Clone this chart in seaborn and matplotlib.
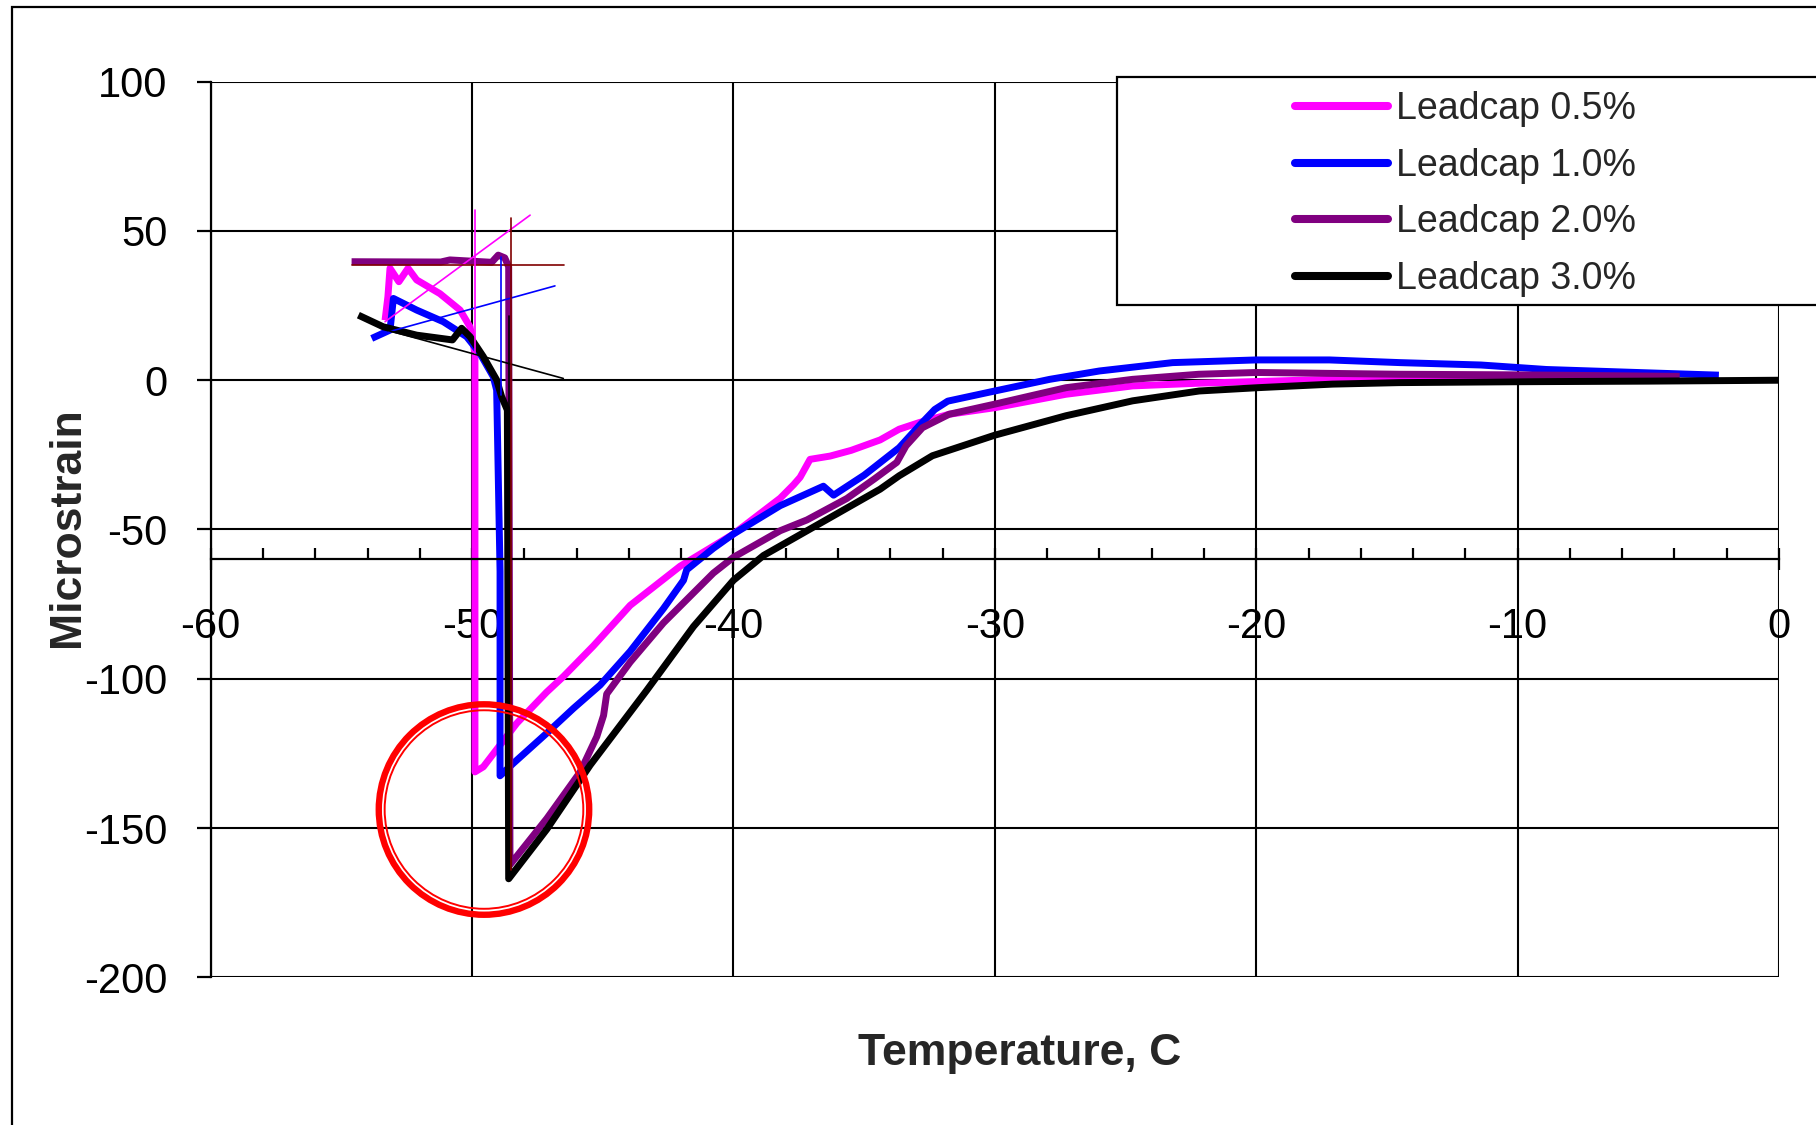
import numpy as np
import pandas as pd
import matplotlib
matplotlib.use("Agg")
import matplotlib.pyplot as plt
import seaborn as sns
from matplotlib.patches import Rectangle, Ellipse
from matplotlib.ticker import MultipleLocator

# ---------------- data ----------------
series_names = ["Leadcap 0.5%", "Leadcap 1.0%", "Leadcap 2.0%", "Leadcap 3.0%"]
series_colors = ["#FF00FF", "#0000FF", "#800080", "#000000"]

pink_T = [-4.0, -10.0, -14.5, -17.1, -22.2, -24.73, -27.28, -30.0, -31.75, -32.9,
          -33.66, -34.39, -35.5, -36.3, -37.07, -37.45, -37.7, -38.21, -40.0, -42.04,
          -43.95, -45.36, -46.5, -47.15, -48.29, -49.57, -49.89, -49.89, -50.08, -50.46,
          -51.23, -52.12, -52.45, -52.8, -53.14, -53.22, -53.33]
pink_strain = [0.5, 0.8, 0.6, 0.3, -1.0, -1.9, -4.7, -9.2, -11.4, -14.2,
               -16.4, -20.0, -23.5, -25.4, -26.5, -32.5, -35.0, -39.5, -51.5, -62.3,
               -75.4, -89.0, -99.2, -104.5, -114.9, -129.5, -131.2, 9.0, 17.9, 23.5,
               29.0, 33.6, 37.5, 33.0, 37.5, 28.0, 20.1]

blue_T = [-2.3, -5.1, -8.9, -11.4, -14.5, -17.2, -20.0, -23.2, -26.0, -27.9,
          -30.0, -31.8, -32.3, -32.9, -33.66, -35.0, -36.17, -36.56, -38.21, -40.0,
          -40.77, -41.79, -41.91, -42.68, -43.95, -45.1, -46.12, -47.14, -48.42, -48.93,
          -48.93, -49.06, -49.19, -49.7, -50.21, -51.1, -52.12, -53.01, -53.14, -53.84]
blue_strain = [1.7, 2.5, 3.6, 5.1, 5.9, 6.8, 6.8, 5.9, 3.1, 0.3,
               -3.6, -7.0, -9.8, -15.3, -22.6, -31.8, -38.5, -35.5, -42.0, -51.5,
               -56.3, -63.5, -67.0, -76.5, -90.8, -102.1, -109.9, -118.2, -128.3, -132.5,
               -64.0, -3.3, 1.2, 9.0, 14.6, 19.6, 23.5, 27.4, 16.8, 14.0]

purple_T = [-3.8, -10.0, -14.5, -20.0, -22.2, -24.73, -27.28, -30.0, -31.75, -32.77,
            -33.4, -33.75, -34.6, -35.66, -37.19, -38.21, -40.0, -40.77, -42.68, -43.95,
            -44.85, -44.97, -45.23, -45.87, -47.14, -48.55, -48.6, -48.75, -49.0, -49.25,
            -50.85, -51.2, -54.61]
purple_strain = [1.3, 1.8, 2.0, 2.6, 2.0, 0.3, -2.5, -8.0, -11.4, -15.9,
                 -22.0, -27.5, -33.0, -39.6, -46.8, -50.4, -59.3, -64.6, -81.3, -94.4,
                 -105.1, -112.3, -119.4, -131.3, -146.8, -162.3, 38.0, 41.0, 41.9, 39.5,
                 40.3, 39.6, 39.7]

black_T = [0.0, -5.0, -10.0, -14.53, -17.08, -19.95, -22.18, -24.73, -27.28, -30.0,
           -32.39, -33.66, -34.39, -36.94, -38.85, -40.0, -41.53, -43.32, -45.48, -47.14,
           -48.6, -48.65, -48.87, -49.06, -49.57, -50.08, -50.4, -50.75, -52.12, -53.4,
           -54.35]
black_strain = [0.0, -0.3, -0.5, -0.8, -1.3, -2.5, -3.6, -6.9, -11.9, -18.4,
                -25.3, -32.0, -36.5, -49.2, -58.7, -67.0, -82.5, -103.9, -128.9, -150.4,
                -167.0, -10.0, -5.5, 0.1, 7.9, 14.6, 17.4, 13.5, 15.1, 17.9,
                21.8]

# thin hand-drawn lines in the upper-left part of the chart
thin_colors = ["#FF00FF", "#0000FF", "#000000", "#800000", "#800000", "#FF00FF", "#0000FF", "#000000"]
thin_T = [[-53.33, -47.78], [-53.2, -46.83], [-53.27, -46.51], [-54.6, -46.5],
          [-48.51, -48.51], [-49.87, -49.87], [-48.9, -48.9], [-48.6, -48.6]]
thin_strain = [[19.6, 55.3], [16.2, 31.6], [16.8, 0.6], [38.6, 38.6],
               [54.2, -164.0], [56.9, 9.0], [41.4, -5.0], [21.5, -10.0]]

x_ticks = [-60, -50, -40, -30, -20, -10, 0]
y_ticks = [-200, -150, -100, -50, 0, 50, 100]

# ---------------- figure ----------------
sns.set_theme(style="white")
plt.rcParams['font.family'] = ['Liberation Sans', 'DejaVu Sans']
plt.rcParams['axes.unicode_minus'] = False

W, H = 1816, 1125
fig = plt.figure(figsize=(W / 100, H / 100), dpi=100, facecolor="white")
ax_l, ax_r, ax_t, ax_b = 210.7, 1779.0, 81.7, 977.3
ax = fig.add_axes([ax_l / W, 1 - ax_b / H, (ax_r - ax_l) / W, (ax_b - ax_t) / H])
ax.set_facecolor("white")

frames = []
for name, T, s in [(series_names[0], pink_T, pink_strain),
                   (series_names[1], blue_T, blue_strain),
                   (series_names[2], purple_T, purple_strain),
                   (series_names[3], black_T, black_strain)]:
    frames.append(pd.DataFrame({"Temperature": T, "Microstrain": s, "series": name}))
df = pd.concat(frames, ignore_index=True)

sns.lineplot(data=df, x="Temperature", y="Microstrain", hue="series",
             hue_order=series_names, palette=series_colors, sort=False,
             estimator=None, linewidth=5.0, ax=ax, legend=True)
for ln in ax.get_lines():
    ln.set_solid_capstyle("butt")

for c, T, s in zip(thin_colors, thin_T, thin_strain):
    ax.plot(T, s, color=c, lw=1.2, zorder=3)

ax.set_xlim(-60, 0)
ax.set_ylim(-200, 100)
ax.set_xticks(x_ticks)
ax.set_yticks(y_ticks)
ax.xaxis.set_minor_locator(MultipleLocator(2))
ax.set_axisbelow(True)
ax.grid(True, which="major", color="black", lw=1.5)

for sp in ["top", "right"]:
    ax.spines[sp].set_visible(False)
ax.spines["bottom"].set_position(("data", -60))
for sp in ["left", "bottom"]:
    ax.spines[sp].set_color("black")
    ax.spines[sp].set_linewidth(1.6)

ax.tick_params(axis="y", which="major", direction="out", length=10, width=1.6,
               pad=21, labelsize=30, colors="black", left=True)
ax.tick_params(axis="x", which="major", direction="inout", length=16, width=1.6,
               pad=26, labelsize=30, colors="black", bottom=True)
ax.tick_params(axis="x", which="minor", direction="in", length=8, width=1.6,
               colors="black", bottom=True)
ax.set_xlabel("")
ax.set_ylabel("")

fig.text(1019.5 / W, 1 - 1053 / H, "Temperature, C", ha="center", va="center",
         fontsize=32, fontweight="bold")
fig.text(67 / W, 1 - 527 / H, "Microstrain", rotation=90, ha="center", va="center",
         fontsize=32, fontweight="bold")

# legend
handles, labels = ax.get_legend_handles_labels()
ax.get_legend().remove()
box = Rectangle((1117 / W, 1 - 305 / H), 0.6, (305 - 77.3) / H, transform=fig.transFigure,
                facecolor="white", edgecolor="black", lw=1.6, zorder=1)
fig.add_artist(box)
leg = fig.legend(handles, labels, loc="upper left",
                 bbox_to_anchor=(1294.7 / W, 1 - 91 / H), bbox_transform=fig.transFigure,
                 frameon=False, fontsize=27, handlelength=2.5, handletextpad=0.2,
                 labelspacing=0.55, borderpad=0, borderaxespad=0)
for h in leg.legend_handles:
    h.set_linewidth(5.8)
    h.set_solid_capstyle("round")

# outer chart frame
frame = Rectangle((12 / W, -0.5), 2.0, 1.5 - 7 / H, transform=fig.transFigure,
                  fill=False, edgecolor="black", lw=1.6, zorder=1)
fig.add_artist(frame)

# red highlight ring (annotation)
ring_cx, ring_cy = -49.545, -143.8
ax.add_patch(Ellipse((ring_cx, ring_cy), 8.05, 70.5, fill=False, edgecolor="#FF0000",
                     lw=4.6, zorder=6))
ax.add_patch(Ellipse((ring_cx, ring_cy), 7.6, 66.5, fill=False, edgecolor="#FF0000",
                     lw=1.4, zorder=6))

fig.savefig("out.png", dpi=100, facecolor="white")
